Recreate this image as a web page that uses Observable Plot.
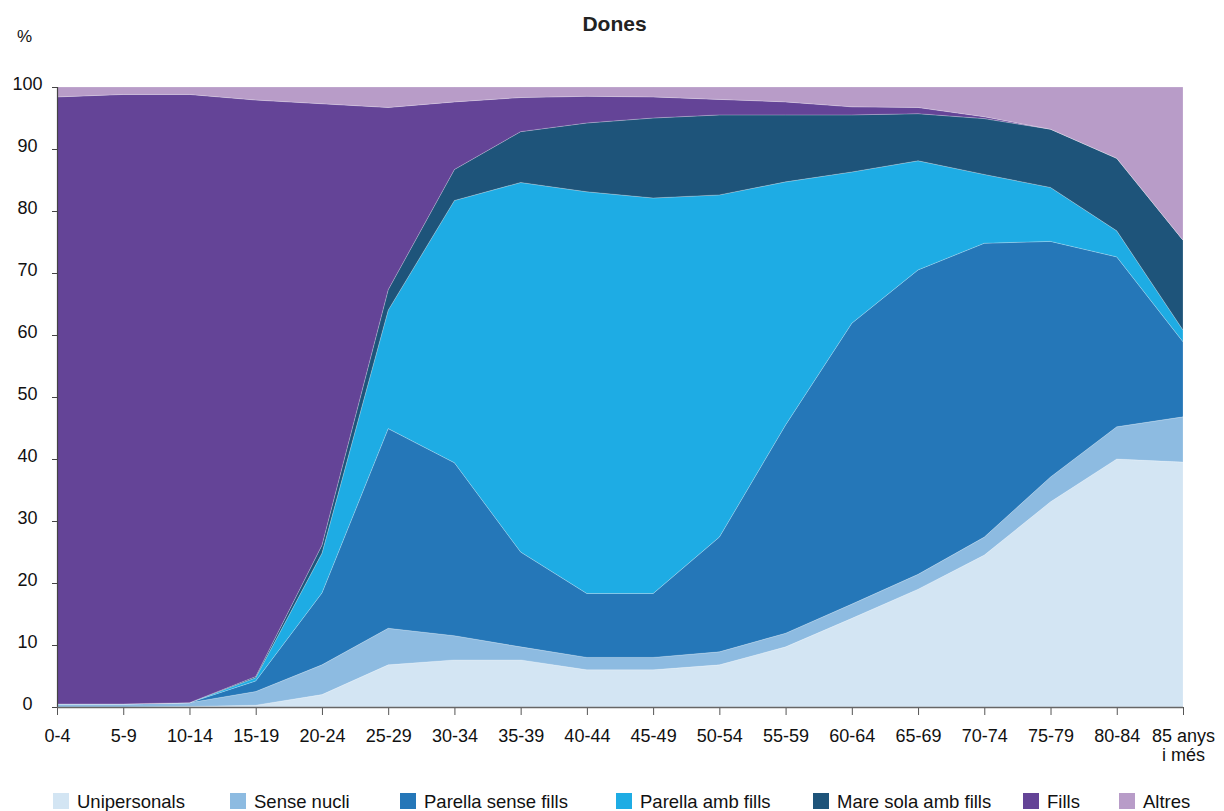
<!DOCTYPE html>
<html>
<head>
<meta charset="utf-8">
<script src="https://cdn.jsdelivr.net/npm/d3@7"></script>
<script src="https://cdn.jsdelivr.net/npm/@observablehq/plot@0.6"></script>
<style>
  body { margin: 0; background: #fff; font-family: "Liberation Sans", Arial, Helvetica, sans-serif; }
  #wrap { position: relative; width: 1224px; height: 811px; overflow: hidden; }
  #title { position: absolute; left: 0; width: 1229px; top: 12px; text-align: center; font-weight: bold; font-size: 21px; color: #222; }
  #pct { position: absolute; left: 17px; top: 27px; font-size: 17px; color: #111; }
  .leg { position: absolute; top: 792px; font-size: 18.5px; color: #111; white-space: nowrap; }
  .leg span.sw { position: absolute; left: 0; top: 1px; width: 16px; height: 16px; }
  .leg span.tx { position: absolute; left: 24px; top: -1px; }
  #chart { position: absolute; left: 0; top: 0; }
</style>
</head>
<body>
<div id="wrap">
  <div id="chart"></div>
  <div id="title">Dones</div>
  <div id="pct">%</div>
  <div id="legend"></div>
</div>
<script>
// Age groups (x categories)
const ages = ["0-4","5-9","10-14","15-19","20-24","25-29","30-34","35-39","40-44","45-49","50-54","55-59","60-64","65-69","70-74","75-79","80-84","85 anys\ni més"];

// Series (% of women by household type)
const seriesNames = ["Unipersonals","Sense nucli","Parella sense fills","Parella amb fills","Mare sola amb fills","Fills","Altres"];
const unipersonals      = [0, 0, 0.1, 0.3, 2.0, 6.8, 7.6, 7.6, 6.0, 6.0, 6.8, 9.7, 14.3, 19.0, 24.5, 33.1, 40.0, 39.5];
const senseNucli        = [0.5, 0.5, 0.6, 2.2, 4.8, 5.9, 3.9, 2.1, 2.0, 2.0, 2.1, 2.2, 2.3, 2.4, 2.9, 4.0, 5.2, 7.3];
const parellaSenseFills = [0, 0, 0, 1.7, 11.6, 32.2, 27.9, 15.3, 10.3, 10.3, 18.5, 33.6, 45.3, 49.1, 47.4, 38.0, 27.4, 12.1];
const parellaAmbFills   = [0, 0, 0, 0.5, 6.4, 19.1, 42.3, 59.6, 64.8, 63.8, 55.2, 39.2, 24.4, 17.6, 11.1, 8.7, 4.2, 1.9];
const mareSolaAmbFills  = [0, 0, 0, 0.2, 1.3, 3.3, 5.0, 8.2, 11.1, 12.9, 12.9, 10.8, 9.2, 7.6, 9.0, 9.4, 11.7, 14.5];
const fills             = [97.9, 98.3, 98.1, 93.0, 71.2, 29.4, 10.9, 5.5, 4.3, 3.4, 2.5, 2.1, 1.3, 1.0, 0.3, 0, 0, 0];
const altres            = [1.6, 1.2, 1.2, 2.1, 2.7, 3.3, 2.4, 1.7, 1.5, 1.6, 2.0, 2.4, 3.2, 3.3, 4.8, 6.8, 11.5, 24.7];

const yTicks = [0,10,20,30,40,50,60,70,80,90,100];
const colors = ["#d3e5f3","#8dbbe1","#2577b8","#1eace4","#1e547a","#644497","#b89cc8"];

const seriesValues = [unipersonals, senseNucli, parellaSenseFills, parellaAmbFills, mareSolaAmbFills, fills, altres];
const data = [];
seriesNames.forEach((s, k) => {
  seriesValues[k].forEach((v, i) => data.push({serie: s, i, v}));
});

const chart = Plot.plot({
  width: 1224,
  height: 811,
  marginLeft: 57,
  marginRight: 41,
  marginTop: 87,
  marginBottom: 104,
  style: {fontFamily: '"Liberation Sans", Arial, Helvetica, sans-serif', fontSize: "18px", color: "#111", background: "transparent"},
  x: {type: "linear", domain: [0, ages.length - 1]},
  y: {domain: [0, 100]},
  color: {domain: seriesNames, range: colors},
  marks: [
    Plot.areaY(data, {x: "i", y: "v", fill: "serie", z: "serie", stroke: "white", strokeOpacity: 0.35, strokeWidth: 0.6}),
    // y tick marks (no labels)
    Plot.axisY({ticks: yTicks, tickSize: 5, label: null, tickFormat: () => "", stroke: "#444"}),
    // y tick labels (slightly raised, centred)
    Plot.axisY({ticks: yTicks, tickSize: 0, tickPadding: 30, textAnchor: "middle", dy: -3, label: null, tickFormat: d => String(d), fontSize: 18}),
    Plot.axisX({ticks: d3.range(ages.length), tickSize: 8, tickPadding: 12, label: null, tickFormat: i => ages[i], fontSize: 18, lineHeight: 1.1, stroke: "#555"}),
    Plot.ruleX([0], {stroke: "#444", strokeWidth: 1.2}),
    Plot.ruleY([0], {stroke: "#666", strokeWidth: 1.5})
  ]
});
document.getElementById("chart").appendChild(chart);

// Legend
const legLeft = [53, 230, 400, 616, 813, 1023, 1119];
const legend = document.getElementById("legend");
seriesNames.forEach((s, k) => {
  const d = document.createElement("div");
  d.className = "leg";
  d.style.left = legLeft[k] + "px";
  d.innerHTML = `<span class="sw" style="background:${colors[k]}"></span><span class="tx">${s}</span>`;
  legend.appendChild(d);
});
</script>
</body>
</html>
